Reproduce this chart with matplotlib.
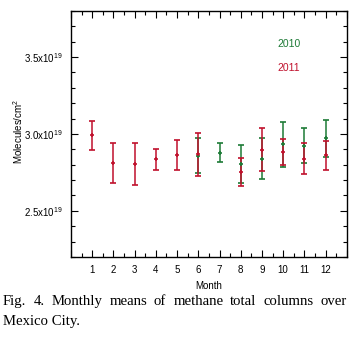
import matplotlib.pyplot as plt
from matplotlib.ticker import MultipleLocator, FixedLocator
import numpy as np

plt.rcParams['font.family'] = ['Liberation Sans', 'DejaVu Sans']
plt.rcParams['mathtext.fontset'] = 'custom'
plt.rcParams['mathtext.rm'] = 'Liberation Sans'

# monthly means (units of 1e19 molecules/cm2) and errors
months_2010 = [6, 7, 8, 9, 10, 11, 12]
mean_2010 = [2.86, 2.879, 2.805, 2.84, 2.933, 2.924, 2.972]
err_2010 = [0.112, 0.062, 0.121, 0.133, 0.148, 0.114, 0.122]

months_2011 = [1, 2, 3, 4, 5, 6, 8, 9, 10, 11, 12]
mean_2011 = [2.991, 2.812, 2.805, 2.836, 2.862, 2.868, 2.755, 2.898, 2.881, 2.84, 2.862]
err_2011 = [0.096, 0.13, 0.134, 0.067, 0.097, 0.141, 0.091, 0.14, 0.085, 0.1, 0.095]

caption = ['Fig. 4. Monthly means of methane total columns over', 'Mexico City.']

green = '#1d7a36'
red = '#c0102c'

fig = plt.figure(figsize=(3.55, 3.42), dpi=100)
ax = fig.add_axes([0.2, 0.2485, 0.777, 0.7195])

ax.errorbar(months_2010, mean_2010, yerr=err_2010, fmt='+', color=green,
            ms=3, mew=1.2, elinewidth=1.1, capsize=2.2, capthick=1.1)
ax.errorbar(months_2011, mean_2011, yerr=err_2011, fmt='+', color=red,
            ms=3, mew=1.2, elinewidth=1.1, capsize=2.2, capthick=1.1)

ax.set_xlim(0, 13)
ax.set_ylim(2.2, 3.8)
ax.xaxis.set_major_locator(FixedLocator(range(0, 14)))
ax.set_xticklabels([''] + [str(m) for m in range(1, 13)] + [''])
ax.xaxis.set_minor_locator(MultipleLocator(0.5))
ax.yaxis.set_major_locator(FixedLocator([2.5, 3.0, 3.5]))
ax.set_yticklabels([r'2.5x10$^{19}$', r'3.0x10$^{19}$', r'3.5x10$^{19}$'])
ax.yaxis.set_minor_locator(MultipleLocator(0.1))
ax.tick_params(which='both', direction='in', top=True, right=True,
               labelsize=7, width=0.8, color='black')
ax.tick_params(which='major', length=5, pad=6)
ax.tick_params(which='minor', length=3)
for s in ax.spines.values():
    s.set_linewidth(1.0)

ax.set_xlabel('Month', fontsize=7, labelpad=4)
ax.set_ylabel('Molecules/cm$^2$', fontsize=7)
ax.yaxis.set_label_coords(-0.165, 0.51)

ax.text(0.75, 0.853, '2010', color=green, fontsize=7.5, transform=ax.transAxes)
ax.text(0.75, 0.756, '2011', color=red, fontsize=7.5, transform=ax.transAxes)

# caption, first line justified across the figure width
renderer = fig.canvas.get_renderer()
x0, x1 = 3, 347
words = caption[0].split(' ')
texts = [fig.text(0, 0.109, w, family='Liberation Serif', fontsize=10.6) for w in words]
widths = [t.get_window_extent(renderer).width for t in texts]
gap = (x1 - x0 - sum(widths)) / (len(words) - 1)
x = x0
for t, w in zip(texts, widths):
    t.set_x(x / 355)
    x += w + gap
fig.text(x0 / 355, 0.049, caption[1], family='Liberation Serif', fontsize=10.6)

fig.savefig('out.png', dpi=100)
